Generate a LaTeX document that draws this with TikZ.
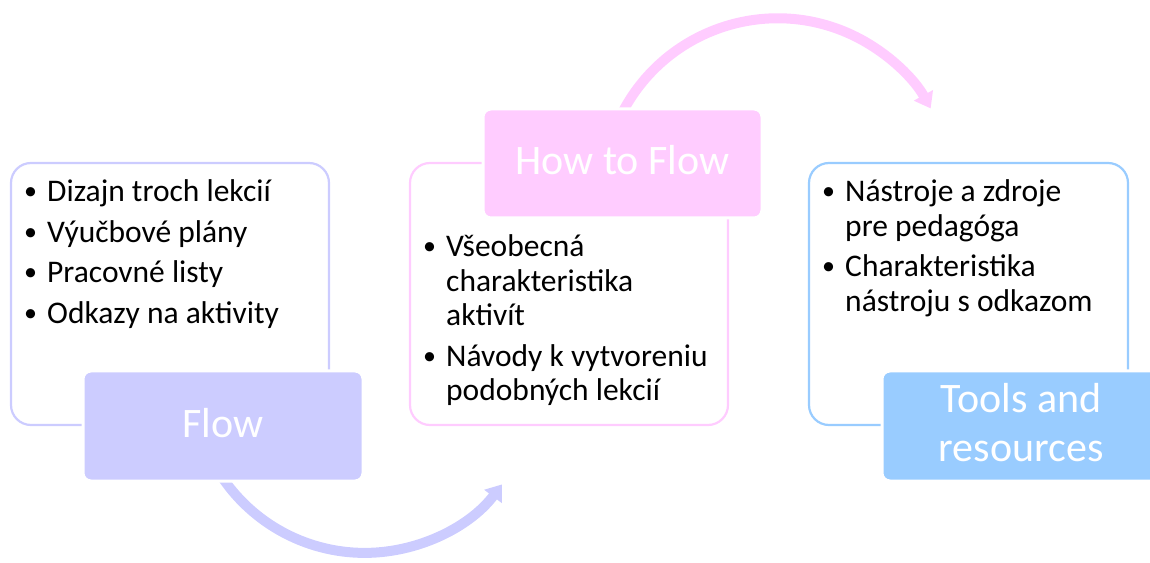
\documentclass[tikz,border=0pt]{standalone}
\usepackage{fontspec}
\setmainfont{Carlito}
\usetikzlibrary{arrows.meta}
\definecolor{lav}{HTML}{CCCCFF}
\definecolor{pnk}{HTML}{FFCCFF}
\definecolor{blu}{HTML}{99CCFF}
\newcommand\blist[1]{\parbox[t]{330pt}{\fontsize{31.5}{34.5}\selectfont\raggedright\parskip=0pt #1}}
\newcommand\bdot{\makebox[25pt][l]{\hspace{2pt}\raisebox{1.8pt}{\fontsize{26}{26}\selectfont •}}}
\newcommand\bitem[1]{\par\hangindent=25pt\hangafter=1\noindent\bdot#1}
\newcommand\bgap{\par\vspace{6pt}}
\tikzset{
  outlinebox/.style={draw=#1, line width=2.2pt, rounded corners=20pt, fill=white},
  labelbox/.style={fill=#1, draw=white, line width=3pt, rounded corners=8pt},
  labeltext/.style={text=white, inner sep=0pt, anchor=base},
  bullettext/.style={text=black, inner sep=0pt, anchor=base west},
  flowarrow/.style={draw=#1, line width=10pt, -{Triangle[width=21pt,length=15pt]}}
}
\begin{document}
\begin{tikzpicture}[x=1pt,y=1pt]
\useasboundingbox (0,0) rectangle (1150,562);
% arc centres
\coordinate (c1) at (364.6,181.1);
\coordinate (c2) at (777.6,368.7);
% arrows
\draw[flowarrow=lav] ([shift={(214:172pt)}]c1) arc[start angle=214, end angle=323, radius=172pt];
\draw[flowarrow=pnk] ([shift={(152:175pt)}]c2) arc[start angle=152, end angle=29, radius=175pt];
% outline boxes
\draw[outlinebox=lav] (11,137) rectangle (329,399);
\draw[outlinebox=pnk] (410,137) rectangle (728,399);
\draw[outlinebox=blu] (809,137) rectangle (1128,399);
% label boxes
\draw[labelbox=lav] (83,81) rectangle (363,191);
\draw[labelbox=pnk] (483,344) rectangle (762,453);
\draw[labelbox=blu] (882,81) rectangle (1162,191);
% label texts
\node[labeltext] (l1) at (223,124) {\fontsize{42}{48}\selectfont Flow};
\node[labeltext] (l2) at (622.5,387) {\fontsize{42}{48}\selectfont How to Flow};
\node[labeltext] (l3) at (1021,149) {\parbox[t]{260pt}{\centering\fontsize{42}{49}\selectfont Tools and\\resources}};
% bullet texts
\node[bullettext] (t1) at (22,360.3) {\blist{%
\bitem{Dizajn troch lekcií}\bgap
\bitem{Výučbové plány}\bgap
\bitem{Pracovné listy}\bgap
\bitem{Odkazy na aktivity}}};
\node[bullettext] (t2) at (421,305.3) {\blist{%
\bitem{Všeobecná\newline charakteristika\newline aktivít}\bgap
\bitem{Návody k vytvoreniu\newline podobných lekcií}}};
\node[bullettext] (t3) at (820,360.3) {\blist{%
\bitem{Nástroje a zdroje\newline pre pedagóga}\bgap
\bitem{Charakteristika\newline nástroju s odkazom}}};
\end{tikzpicture}
\end{document}
